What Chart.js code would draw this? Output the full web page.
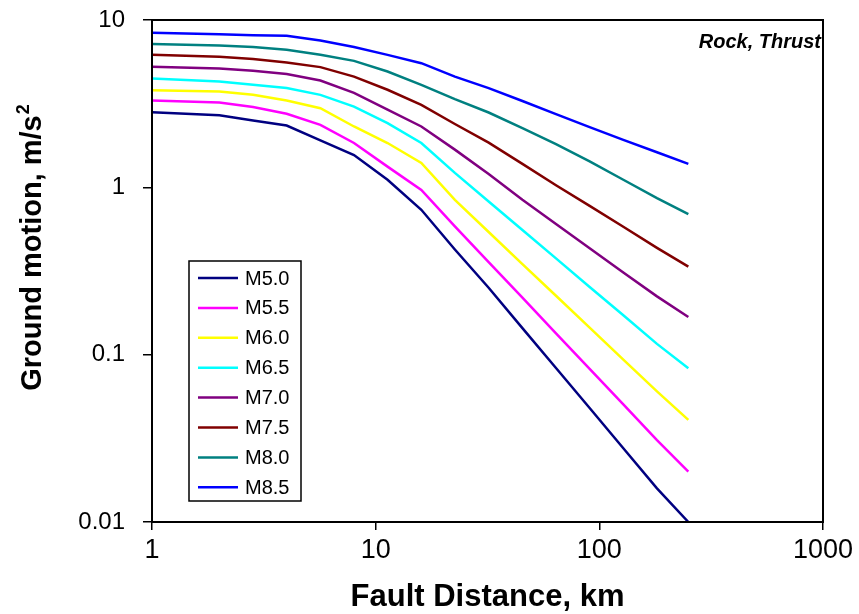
<!DOCTYPE html>
<html>
<head>
<meta charset="utf-8">
<script src="https://cdn.jsdelivr.net/npm/chart.js@4.4.0/dist/chart.umd.min.js"></script>
<style>
  body { margin: 0; background: #fff; }
</style>
</head>
<body>
<canvas id="grafico" width="859" height="614"></canvas>
<script>
// distancias (km) y movimiento del suelo (m/s2)
const distancias = [1, 2, 2.83, 4, 5.66, 8, 11.3, 16, 22.6, 32, 45.3, 64, 90.5, 128, 181, 250]
const m50 = [2.81, 2.70, 2.51, 2.34, 1.91, 1.56, 1.11, 0.734, 0.425, 0.251, 0.144, 0.0832, 0.0480, 0.0276, 0.0159, 0.0100]
const m55 = [3.30, 3.21, 3.02, 2.75, 2.36, 1.84, 1.33, 0.966, 0.585, 0.357, 0.219, 0.134, 0.0822, 0.0504, 0.0309, 0.0200]
const m60 = [3.81, 3.74, 3.57, 3.30, 2.97, 2.31, 1.84, 1.40, 0.842, 0.541, 0.348, 0.225, 0.145, 0.0935, 0.0604, 0.0408]
const m65 = [4.47, 4.29, 4.10, 3.92, 3.57, 3.04, 2.42, 1.84, 1.22, 0.823, 0.556, 0.376, 0.254, 0.172, 0.116, 0.083]
const m70 = [5.25, 5.13, 4.97, 4.75, 4.35, 3.67, 2.91, 2.31, 1.68, 1.20, 0.842, 0.603, 0.432, 0.310, 0.223, 0.168]
const m75 = [6.19, 6.03, 5.84, 5.57, 5.23, 4.59, 3.83, 3.11, 2.39, 1.85, 1.38, 1.03, 0.775, 0.581, 0.435, 0.336]
const m80 = [7.18, 7.04, 6.89, 6.64, 6.19, 5.70, 4.92, 4.10, 3.37, 2.80, 2.26, 1.81, 1.43, 1.11, 0.861, 0.691]
const m85 = [8.39, 8.23, 8.10, 8.05, 7.54, 6.89, 6.19, 5.52, 4.59, 3.92, 3.28, 2.74, 2.29, 1.92, 1.62, 1.38]

const etiquetas = ['M5.0', 'M5.5', 'M6.0', 'M6.5', 'M7.0', 'M7.5', 'M8.0', 'M8.5']
const xTicks = [1, 10, 100, 1000]
const yTicks = [0.01, 0.1, 1, 10]

const series = [m50, m55, m60, m65, m70, m75, m80, m85]
const colores = ['#000080', '#FF00FF', '#FFFF00', '#00FFFF', '#800080', '#800000', '#008080', '#0000FF']
const fuente = "'Liberation Sans', Arial, sans-serif"

Chart.defaults.font.family = fuente
Chart.defaults.color = '#000'

const datasets = series.map((serie, i) => ({
  label: etiquetas[i],
  data: serie.map((v, j) => ({ x: distancias[j], y: v })),
  borderColor: colores[i],
  backgroundColor: colores[i],
  borderWidth: 2.5,
  pointRadius: 0,
  tension: 0,
  fill: false
}))

// marco completo, texto "Rock, Thrust" y titulo del eje y con superindice
const marco = {
  id: 'marco',
  afterDraw(chart) {
    const { ctx, chartArea: a } = chart
    ctx.save()
    ctx.strokeStyle = '#000'
    ctx.lineWidth = 2
    ctx.strokeRect(a.left, a.top, a.right - a.left, a.bottom - a.top)
    ctx.font = 'italic bold 20px ' + fuente
    ctx.fillStyle = '#000'
    ctx.textAlign = 'right'
    ctx.textBaseline = 'middle'
    ctx.fillText('Rock, Thrust', a.right - 2, a.top + 22)

    // titulo eje y
    const base = 'Ground motion, m/s'
    ctx.font = 'bold 29px ' + fuente
    const w1 = ctx.measureText(base).width
    ctx.font = 'bold 18px ' + fuente
    const w2 = ctx.measureText('2').width
    ctx.translate(41, 248)
    ctx.rotate(-Math.PI / 2)
    ctx.textAlign = 'left'
    ctx.textBaseline = 'alphabetic'
    ctx.font = 'bold 29px ' + fuente
    ctx.fillText(base, -(w1 + w2) / 2, 0)
    ctx.font = 'bold 18px ' + fuente
    ctx.fillText('2', -(w1 + w2) / 2 + w1 + 1, -12)
    ctx.restore()
  }
}

// leyenda dentro del area del grafico
const leyenda = {
  id: 'leyenda',
  afterDraw(chart) {
    const { ctx, chartArea: a } = chart
    const x0 = a.left + 37
    const y0 = a.top + 241
    const w = 112
    const h = 240
    ctx.save()
    ctx.fillStyle = '#fff'
    ctx.fillRect(x0, y0, w, h)
    ctx.strokeStyle = '#000'
    ctx.lineWidth = 1.5
    ctx.strokeRect(x0, y0, w, h)
    ctx.font = '20px ' + fuente
    ctx.textBaseline = 'middle'
    chart.data.datasets.forEach((ds, i) => {
      const y = y0 + 17 + i * 29.9
      ctx.strokeStyle = ds.borderColor
      ctx.lineWidth = 2.5
      ctx.beginPath()
      ctx.moveTo(x0 + 9, y)
      ctx.lineTo(x0 + 49, y)
      ctx.stroke()
      ctx.fillStyle = '#000'
      ctx.fillText(ds.label, x0 + 56, y + 1)
    })
    ctx.restore()
  }
}

const config = {
  type: 'line',
  data: { datasets },
  options: {
    responsive: false,
    animation: false,
    layout: { padding: { top: 20, right: 36, left: 0, bottom: 0 } },
    plugins: {
      legend: { display: false },
      tooltip: { enabled: false }
    },
    scales: {
      x: {
        type: 'logarithmic',
        min: 1,
        max: 1000,
        afterBuildTicks: s => { s.ticks = xTicks.map(v => ({ value: v })) },
        afterFit: s => { s.height = 92; s.paddingLeft = 0; s.paddingRight = 0 },
        ticks: {
          font: { size: 27 },
          padding: 4,
          maxRotation: 0,
          callback: v => String(v)
        },
        grid: { drawOnChartArea: false, drawTicks: true, tickLength: 8, color: '#000', lineWidth: 1.5 },
        border: { display: true, color: '#000', width: 2 },
        title: {
          display: true,
          text: 'Fault Distance, km',
          font: { size: 31, weight: 'bold', lineHeight: 1 },
          padding: { top: 0, bottom: 1 }
        }
      },
      y: {
        type: 'logarithmic',
        min: 0.01,
        max: 10,
        afterBuildTicks: s => { s.ticks = yTicks.map(v => ({ value: v })) },
        afterFit: s => { s.width = 152; s.paddingTop = 0; s.paddingBottom = 0 },
        ticks: {
          font: { size: 24 },
          padding: 18,
          callback: v => String(v)
        },
        grid: { drawOnChartArea: false, drawTicks: true, tickLength: 9, color: '#000', lineWidth: 1.5 },
        border: { display: true, color: '#000', width: 2 }
      }
    }
  },
  plugins: [marco, leyenda]
}

const grafico = new Chart(document.getElementById('grafico'), config)
</script>
</body>
</html>
